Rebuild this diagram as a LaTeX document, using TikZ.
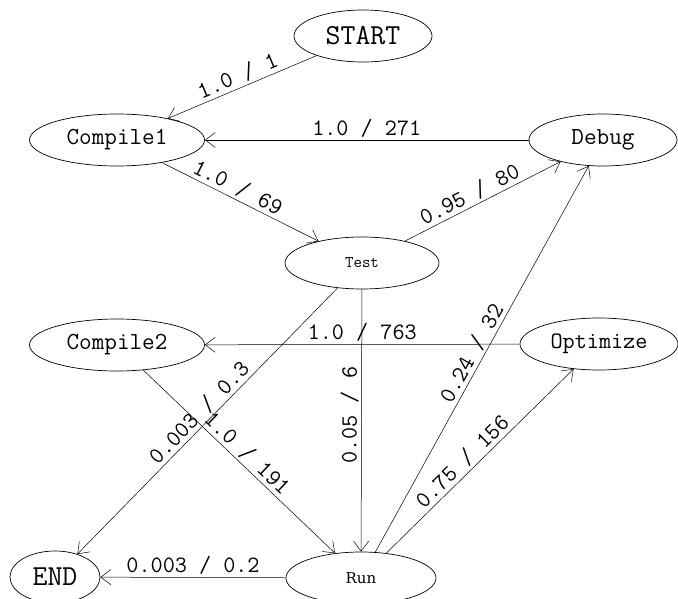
\documentclass[tikz,border=0pt]{standalone}
\usepackage{fontspec}
\newfontfamily\runfont{DejaVu Serif}
\usepackage{tikz}
\usetikzlibrary{arrows.meta,shapes.geometric}

\begin{document}
\begin{tikzpicture}[
x=1pt,y=-1pt,
every node/.style={font=\ttfamily\fontsize{23.5}{27}\selectfont},
st/.style={draw,ellipse,line width=0.7pt,inner sep=0pt,minimum height=52pt},
arr/.style={-{Straight Barb[length=10pt,width=15pt]},line width=0.5pt},
lbl/.style={sloped,above,inner sep=2.5pt}
]
\useasboundingbox (0,0) rectangle (678,599);
\node[st,minimum width=138pt,font=\ttfamily\fontsize{29}{33}\selectfont] (start) at (363,36) {START};
\node[st,minimum width=175pt,font=\ttfamily\fontsize{24.5}{28}\selectfont] (comp1) at (117,140) {Compile1};
\node[st,minimum width=148pt,font=\ttfamily\fontsize{24.5}{28}\selectfont] (debug) at (603,140) {Debug};
\node[st,minimum width=154pt,font=\ttfamily\fontsize{16.4}{19}\selectfont] (test) at (362,263) {Test};
\node[st,minimum width=175pt,font=\ttfamily\fontsize{24.5}{28}\selectfont] (comp2) at (117,345) {Compile2};
\node[st,minimum width=158pt] (opt) at (599,344) {Optimize};
\node[st,minimum width=150pt,font=\runfont\fontsize{15}{18}\selectfont] (run) at (361,578) {Run};
\node[st,minimum width=90pt,font=\ttfamily\fontsize{29}{33}\selectfont] (stop) at (55,577) {END};

\draw[arr] (start) -- node[lbl] {1.0 / 1} (comp1);
\draw[arr] (debug) -- node[lbl] {1.0 / 271} (comp1);
\draw[arr] (comp1) -- node[lbl,pos=.45] {1.0 / 69} (test);
\draw[arr] (test) -- node[lbl,pos=.45] {0.95 / 80} (debug);
\draw[arr] (opt) -- node[lbl] {1.0 / 763} (comp2);
\draw[arr] (test) -- node[lbl] {0.003 / 0.3} (stop);
\draw[arr] (comp2) -- node[lbl] {1.0 / 191} (run);
\draw[arr] (test) -- node[lbl,pos=.48] {0.05 / 6} (run);
\draw[arr] (run) -- node[lbl] {0.24 / 32} (debug);
\draw[arr] (run) -- node[lbl,pos=.45] {0.75 / 156} (opt);
\draw[arr] (run) -- node[lbl] {0.003 / 0.2} (stop);
\end{tikzpicture}
\end{document}
